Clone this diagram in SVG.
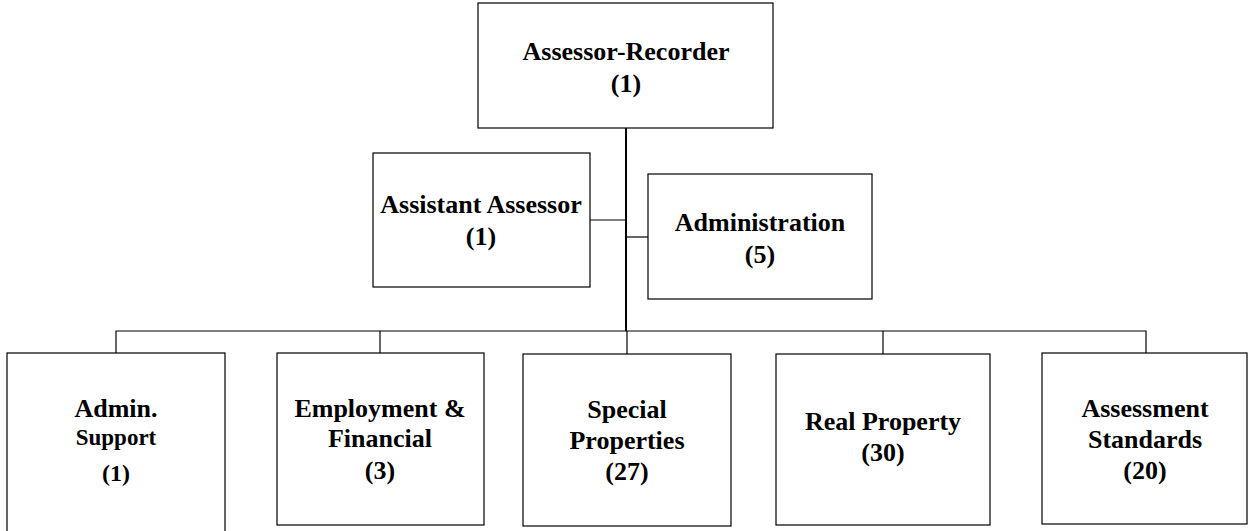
<svg xmlns="http://www.w3.org/2000/svg" width="1248" height="531" viewBox="0 0 1248 531">
  <style>
    .box { fill: #fff; stroke: #000; stroke-width: 1.2; }
    .lbl { font-family: "Liberation Serif", "Times New Roman", serif; font-weight: bold; font-size: 26px; fill: #000; text-anchor: middle; }
    .sm { font-size: 23px; }
    .num { font-size: 24px; }
    .wire { fill: none; stroke: #000; stroke-width: 1.2; }
    .trunk { fill: none; stroke: #000; stroke-width: 2; }
  </style>
  <rect width="1248" height="531" fill="#fff"/>

  <!-- connectors -->
  <g id="connectors">
    <path class="trunk" d="M626,128 V331"/>
    <path class="wire" d="M590,220 H626"/>
    <path class="wire" d="M626,237 H648"/>
    <path class="wire" d="M116,353 V331 H1146 V353"/>
    <path class="wire" d="M380,331 V353"/>
    <path class="wire" d="M627,331 V354"/>
    <path class="wire" d="M883,331 V354"/>
  </g>

  <g id="assessor-recorder">
    <rect class="box" x="478" y="3" width="295" height="125"/>
    <text class="lbl" x="626" y="60">Assessor-Recorder</text>
    <text class="lbl" x="626" y="92">(1)</text>
  </g>

  <g id="assistant-assessor">
    <rect class="box" x="373" y="153" width="217" height="134"/>
    <text class="lbl" x="481" y="213">Assistant Assessor</text>
    <text class="lbl" x="481" y="245">(1)</text>
  </g>

  <g id="administration">
    <rect class="box" x="648" y="174" width="224" height="125"/>
    <text class="lbl" x="760" y="231">Administration</text>
    <text class="lbl" x="760" y="263">(5)</text>
  </g>

  <g id="admin-support">
    <rect class="box" x="7" y="353" width="218" height="190"/>
    <text class="lbl" x="116" y="417">Admin.</text>
    <text class="lbl sm" x="116" y="445">Support</text>
    <text class="lbl num" x="116" y="481">(1)</text>
  </g>

  <g id="employment-financial">
    <rect class="box" x="277" y="353" width="207" height="172"/>
    <text class="lbl" x="380" y="417">Employment &amp;</text>
    <text class="lbl" x="380" y="447">Financial</text>
    <text class="lbl" x="380" y="479">(3)</text>
  </g>

  <g id="special-properties">
    <rect class="box" x="523" y="354" width="208" height="172"/>
    <text class="lbl" x="627" y="418">Special</text>
    <text class="lbl" x="627" y="449">Properties</text>
    <text class="lbl" x="627" y="480">(27)</text>
  </g>

  <g id="real-property">
    <rect class="box" x="776" y="354" width="214" height="171"/>
    <text class="lbl" x="883" y="430">Real Property</text>
    <text class="lbl" x="883" y="461">(30)</text>
  </g>

  <g id="assessment-standards">
    <rect class="box" x="1042" y="353" width="205" height="171"/>
    <text class="lbl" x="1145" y="417">Assessment</text>
    <text class="lbl" x="1145" y="448">Standards</text>
    <text class="lbl" x="1145" y="479">(20)</text>
  </g>
</svg>
